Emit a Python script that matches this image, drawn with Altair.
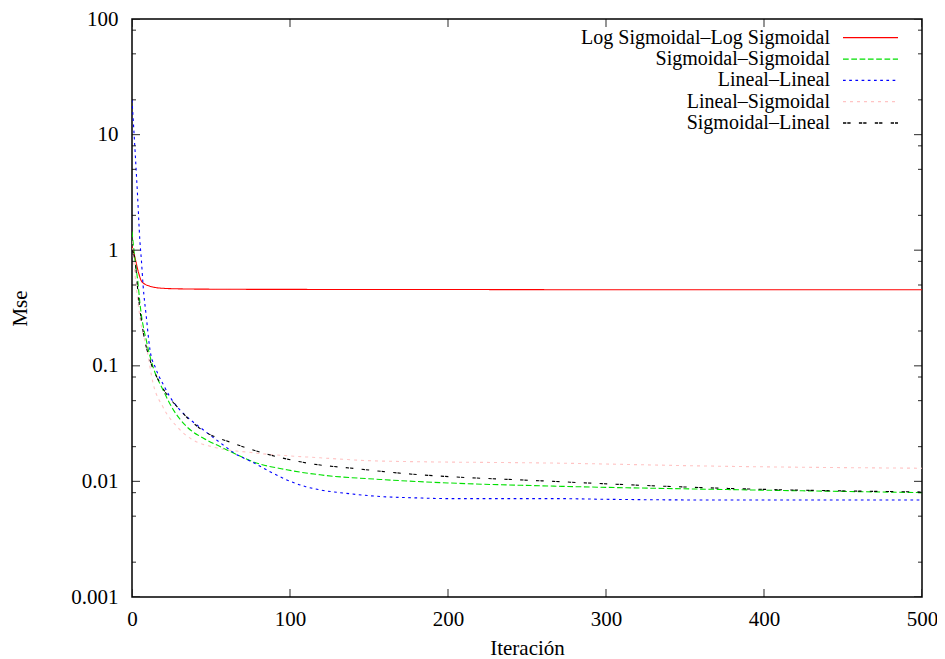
import altair as alt
import pandas as pd

FONT = "Liberation Serif"

series_names = [
    "Log Sigmoidal\u2013Log Sigmoidal",
    "Sigmoidal\u2013Sigmoidal",
    "Lineal\u2013Lineal",
    "Lineal\u2013Sigmoidal",
    "Sigmoidal\u2013Lineal",
]
series_colors = ["#ff0000", "#00e000", "#0000ff", "#ffc4c4", "#000000"]
series_dashes = [[1, 0], [5.7, 2.6], [2.7, 3.5], [3, 4], [3.3, 1, 3.3, 8.3]]

# Log Sigmoidal-Log Sigmoidal
red_x = [0, 2, 4, 5.7, 8, 11, 15, 20, 30, 50, 100, 200, 300, 400, 500]
red_y = [1.08, 0.85, 0.65, 0.55, 0.51, 0.49, 0.475, 0.468, 0.463, 0.46, 0.458,
         0.457, 0.455, 0.455, 0.455]

# Sigmoidal-Sigmoidal
green_x = [0, 2, 3.8, 5, 9.3, 13.3, 19.6, 26, 34.8, 45, 55.7, 66.5, 76.6, 98,
           119, 157, 200, 267, 377, 500]
green_y = [1.45, 0.8, 0.52, 0.35, 0.16, 0.098, 0.062, 0.042, 0.0296, 0.0237,
           0.020, 0.017, 0.0148, 0.0126, 0.0114, 0.0104, 0.0097, 0.0091,
           0.0085, 0.0080]

# Lineal-Lineal
blue_x = [0, 2, 3.5, 5, 6, 7, 9, 11.4, 15, 20, 24, 30, 35, 45, 56, 65, 77, 88,
          98, 110, 120, 135, 157, 180, 200, 267, 300, 377, 500]
blue_y = [20, 7, 3, 1.2, 0.8, 0.5, 0.27, 0.137, 0.095, 0.068, 0.054, 0.042,
          0.036, 0.028, 0.0215, 0.0175, 0.0145, 0.0120, 0.0103, 0.0090, 0.0084,
          0.0079, 0.0074, 0.0072, 0.0071, 0.0071, 0.0070, 0.0069, 0.0069]

# Lineal-Sigmoidal
pink_x = [0, 2, 5, 9.5, 13.3, 19.6, 28.5, 38.6, 51, 76.6, 119, 157, 267, 377, 500]
pink_y = [1.2, 0.6, 0.264, 0.137, 0.071, 0.044, 0.0297, 0.0228, 0.0199, 0.0177,
          0.0160, 0.0150, 0.0144, 0.0135, 0.0130]

# Sigmoidal-Lineal
black_x = [0, 2, 3.8, 7, 11.4, 17.7, 30, 44.3, 64, 83, 111, 144, 163.5, 267,
           377, 500]
black_y = [1.0, 0.8, 0.43, 0.2, 0.112, 0.071, 0.042, 0.0279, 0.0214, 0.0176,
           0.0144, 0.0128, 0.0120, 0.0100, 0.0087, 0.0081]

x_major = [0, 100, 200, 300, 400, 500]
y_major = [0.001, 0.01, 0.1, 1, 10, 100]
y_minor = [m * 10.0 ** k for k in range(-3, 2) for m in (2, 5, 8)]

W, H = 790, 578

rows = []
for name, xs, ys in zip(series_names,
                        [red_x, green_x, blue_x, pink_x, black_x],
                        [red_y, green_y, blue_y, pink_y, black_y]):
    for a, b in zip(xs, ys):
        rows.append({"series": name, "iter": a, "mse": b})
df = pd.DataFrame(rows)

x_scale = alt.Scale(domain=[0, 500], nice=False, zero=False)
y_scale = alt.Scale(type="log", domain=[0.001, 100], nice=False)
color = alt.Color("series:N", scale=alt.Scale(domain=series_names, range=series_colors), legend=None)
dash = alt.StrokeDash("series:N", scale=alt.Scale(domain=series_names, range=series_dashes), legend=None)

x_axis = alt.Axis(values=x_major, ticks=False, domain=False, grid=False,
                  labelPadding=11, labelFlush=False, titlePadding=8)
y_axis = alt.Axis(values=y_major, format="~g", ticks=False, domain=False, grid=False,
                  labelPadding=14, labelFlush=False, titlePadding=40)

lines = alt.Chart(df).mark_line(strokeWidth=1.1, interpolate="monotone", clip=True).encode(
    x=alt.X("iter:Q", scale=x_scale, axis=x_axis, title="Iteración"),
    y=alt.Y("mse:Q", scale=y_scale, axis=y_axis, title="Mse"),
    color=color,
    strokeDash=dash,
    order=alt.Order("iter:Q"),
)

ymaj_df = pd.DataFrame({"v": y_major})
ymin_df = pd.DataFrame({"v": y_minor})
xmaj_df = pd.DataFrame({"v": x_major})


def yticks(data, size, xpos):
    return alt.Chart(data).mark_tick(orient="horizontal", size=size, thickness=1.2,
                                     color="black", clip=True).encode(
        x=alt.datum(xpos, scale=x_scale),
        y=alt.Y("v:Q", scale=y_scale, title="Mse"),
    )


def xticks(data, size, ypos):
    return alt.Chart(data).mark_tick(orient="vertical", size=size, thickness=1.2,
                                     color="black", clip=True).encode(
        x=alt.X("v:Q", scale=x_scale, title="Iteración"),
        y=alt.datum(ypos, scale=y_scale),
    )


main = alt.layer(
    lines,
    yticks(ymaj_df, 16, 0), yticks(ymaj_df, 16, 500),
    yticks(ymin_df, 8, 0), yticks(ymin_df, 8, 500),
    xticks(xmaj_df, 16, 0.001), xticks(xmaj_df, 16, 100),
)

leg_df = pd.DataFrame({"series": series_names, "row": list(range(len(series_names)))})
leg_y = alt.Y("row:Q", scale=alt.Scale(domain=[0, 4], range=[18.7, 104]), axis=None)

leg_text = alt.Chart(leg_df).mark_text(align="right", baseline="middle", font=FONT,
                                       fontSize=20, color="black").encode(
    x=alt.value(698), y=leg_y, text="series:N")
leg_rule = alt.Chart(leg_df).mark_rule(strokeWidth=1.3).encode(
    x=alt.value(711), x2=alt.value(766), y=leg_y, color=color, strokeDash=dash)

legend = alt.layer(leg_text, leg_rule)

chart = alt.layer(main, legend).resolve_scale(y="independent").properties(
    width=W, height=H,
    background="white",
    autosize=alt.AutoSizeParams(type="none"),
    padding={"left": 124, "top": 11, "right": 15, "bottom": 63},
).configure_view(
    stroke="black", strokeWidth=1.5
).configure_axis(
    labelFont=FONT, labelFontSize=21, labelColor="black",
    titleFont=FONT, titleFontSize=21, titleFontWeight="normal", titleColor="black",
    labelOverlap=False,
)

chart.save("out.html", embed_options={"renderer": "svg", "actions": False})
